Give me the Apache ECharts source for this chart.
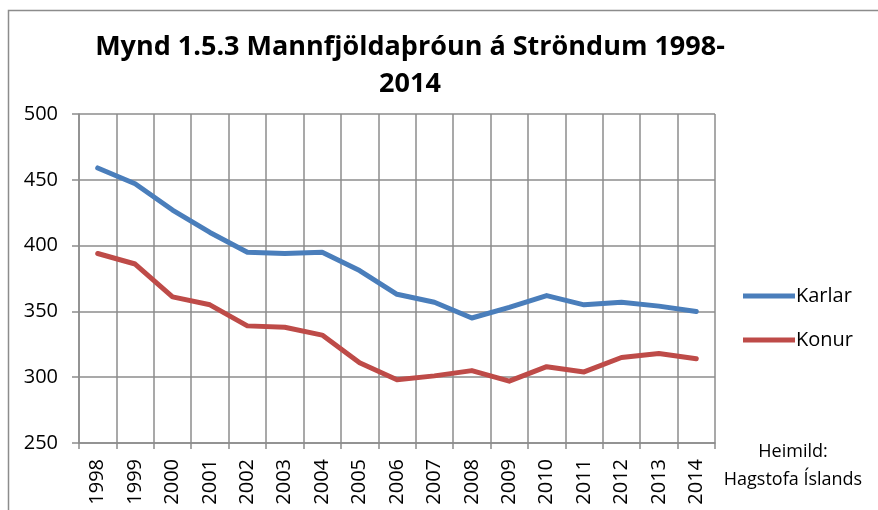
<!DOCTYPE html>
<html>
<head>
<meta charset="utf-8">
<script src="https://cdn.jsdelivr.net/npm/echarts@6/dist/echarts.min.js"></script>
<style>
  html, body { margin: 0; padding: 0; background: #fff; }
  #chart { width: 878px; height: 510px; }
</style>
</head>
<body>
<div id="chart"></div>
<script>
    // ár
    var years = ['1998', '1999', '2000', '2001', '2002', '2003', '2004', '2005', '2006',
                 '2007', '2008', '2009', '2010', '2011', '2012', '2013', '2014'];
    var karlar = [459, 447, 427, 410, 395, 394, 395, 381, 363, 357, 345, 353, 362, 355, 357, 354, 350];
    var konur = [394, 386, 361, 355, 339, 338, 332, 311, 298, 301, 305, 297, 308, 304, 315, 318, 314];
    var yTicks = [250, 300, 350, 400, 450, 500];

    var font = '"Open Sans", "Noto Sans", sans-serif';
    var gridColor = '#8c8c8c';

    var chart = echarts.init(document.getElementById('chart'));
    chart.setOption({
        animation: false,
        color: ['#4A7EBB', '#BE4B48'],
        textStyle: { fontFamily: font },
        title: {
            text: 'Mynd 1.5.3 Mannfjöldaþróun á Ströndum 1998-\n2014',
            left: 405,
            textAlign: 'center',
            top: 24,
            textStyle: {
                fontFamily: font,
                fontSize: 27,
                fontWeight: 'bold',
                color: '#000',
                lineHeight: 37
            }
        },
        legend: {
            orient: 'vertical',
            left: 738,
            top: 281,
            itemWidth: 52,
            itemHeight: 5,
            itemGap: 24,
            icon: 'rect',
            textStyle: { fontSize: 20, color: '#000', padding: [0, 0, 0, -4] },
            data: ['Karlar', 'Konur']
        },
        grid: { left: 79, right: 163, top: 114, bottom: 67 },
        xAxis: {
            type: 'category',
            data: years,
            boundaryGap: true,
            axisLine: { lineStyle: { color: gridColor, width: 1.5 } },
            axisTick: { show: true, length: 6, alignWithLabel: false, lineStyle: { color: gridColor, width: 1.5 } },
            axisLabel: { rotate: 90, fontSize: 20, color: '#000', margin: 16, interval: 0 },
            splitLine: { show: true, interval: 0, lineStyle: { color: gridColor, width: 1.5 } }
        },
        yAxis: {
            type: 'value',
            min: yTicks[0],
            max: yTicks[yTicks.length - 1],
            interval: 50,
            axisLine: { show: true, lineStyle: { color: gridColor, width: 1.5 } },
            axisTick: { show: true, length: 7, lineStyle: { color: gridColor, width: 1.5 } },
            axisLabel: { fontSize: 20, color: '#000', margin: 21 },
            splitLine: { show: true, lineStyle: { color: gridColor, width: 1.5 } }
        },
        graphic: [
            {
                type: 'rect',
                shape: { x: 8.5, y: 10.5, width: 900, height: 520 },
                style: { fill: 'none', stroke: '#8c8c8c', lineWidth: 1.5 },
                silent: true
            },
            {
                type: 'text',
                x: 793,
                y: 438,
                style: {
                    text: 'Heimild:\nHagstofa Íslands',
                    align: 'center',
                    fontFamily: font,
                    fontSize: 18,
                    lineHeight: 28,
                    fill: '#000'
                }
            }
        ],
        series: [
            {
                name: 'Karlar',
                type: 'line',
                data: karlar,
                showSymbol: false,
                lineStyle: { width: 5, cap: 'round', join: 'round' }
            },
            {
                name: 'Konur',
                type: 'line',
                data: konur,
                showSymbol: false,
                lineStyle: { width: 5, cap: 'round', join: 'round' }
            }
        ]
    });
</script>
</body>
</html>
